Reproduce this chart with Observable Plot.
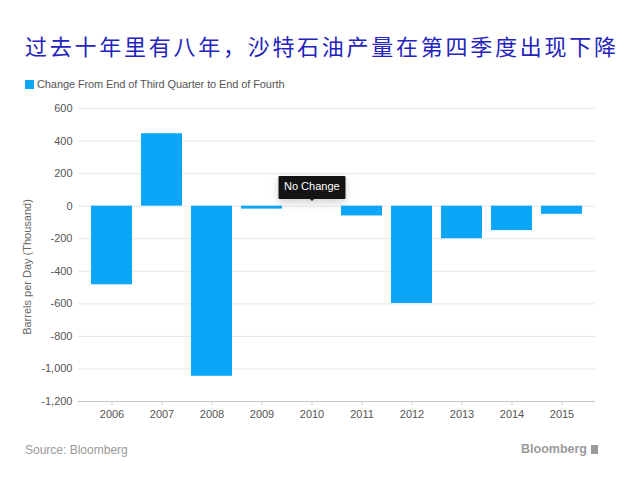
<!DOCTYPE html>
<html><head><meta charset="utf-8">
<script src="https://cdn.jsdelivr.net/npm/d3@7"></script>
<script src="https://cdn.jsdelivr.net/npm/@observablehq/plot@0.6"></script>
<style>
body{margin:0;background:#fff;width:630px;height:490px;overflow:hidden;font-family:"Liberation Sans",Arial,sans-serif;}
#title{position:absolute;left:25px;top:29px;width:591px;font-family:"Noto Sans CJK SC",sans-serif;font-size:22px;letter-spacing:0;color:#2424bc;line-height:32px;text-align:justify;text-align-last:justify;text-justify:inter-character;}
#legend{position:absolute;left:25px;top:77px;font-size:11px;color:#555;white-space:nowrap;line-height:14px;letter-spacing:-0.1px;}
#legend span.sw{display:inline-block;width:9px;height:9px;background:#0ca6f8;margin-right:3px;vertical-align:-1px;}
#chart{position:absolute;left:0;top:95px;}
#source{position:absolute;left:25px;top:443px;font-size:12px;color:#9a9a9a;}
#brand{position:absolute;right:32px;top:442px;font-size:12.5px;color:#9a9a9a;font-weight:bold;}
#brand span{display:inline-block;width:7px;height:9px;background:#9a9a9a;margin-left:4px;vertical-align:-1px;}
</style></head>
<body>
<div id="title">过去十年里有八年，沙特石油产量在第四季度出现下降</div>
<div id="legend"><span class="sw"></span>Change From End of Third Quarter to End of Fourth</div>
<div id="chart"></div>
<div id="source">Source: Bloomberg</div>
<div id="brand">Bloomberg<span></span></div>
<script>
const years = ["2006","2007","2008","2009","2010","2011","2012","2013","2014","2015"];
const values = [-483, 445, -1045, -18, 0, -60, -598, -200, -150, -50];
const yTicks = [600, 400, 200, 0, -200, -400, -600, -800, -1000, -1200];
const tipText = "No Change";
const tipYear = "2010";

const data = years.map((y, i) => ({year: y, value: values[i]}));
const fmt = d => d3.format(",")(d).replace("\u2212", "-");

const chart = Plot.plot({
  width: 630,
  height: 330,
  marginLeft: 78,
  marginRight: 35,
  marginTop: 13,
  marginBottom: 24,
  style: {fontFamily: "Liberation Sans, Arial, sans-serif", fontSize: "11px", color: "#555"},
  x: {domain: years, padding: 0.19, paddingOuter: 0.2, label: null},
  y: {domain: [-1200, 600], ticks: yTicks, label: null},
  marks: [
    Plot.ruleY(yTicks.filter(t => t !== -1200), {stroke: "#e8e8e8", strokeWidth: 1}),
    Plot.ruleY([-1200], {stroke: "#c8c8c8", strokeWidth: 1}),
    Plot.barY(data, {x: "year", y: "value", fill: "#0ca6f8"}),
    Plot.axisY({ticks: yTicks, tickFormat: fmt, tickSize: 0, tickPadding: 6, fill: "#555", label: null}),
    Plot.axisX({tickSize: 4, tickPadding: 5, stroke: "#c8c8c8", fill: "#555", label: null}),
    Plot.text(["Barrels per Day (Thousand)"], {frameAnchor: "left", textAnchor: "middle", rotate: -90, dx: -51, dy: 12, fill: "#666", fontSize: 11}),
    Plot.tip([{year: tipYear, value: 0, note: tipText}], {x: "year", y: "value", title: "note", anchor: "bottom", dy: -6, fill: "#141414", stroke: "#141414", fontSize: 11, textPadding: 5, pointerSize: 4})
  ]
});
document.getElementById("chart").appendChild(chart);
d3.select(chart).selectAll("g[aria-label=tip] text, g[aria-label=tip] tspan").attr("fill", "#fff").style("fill", "#fff");
</script>
</body></html>
